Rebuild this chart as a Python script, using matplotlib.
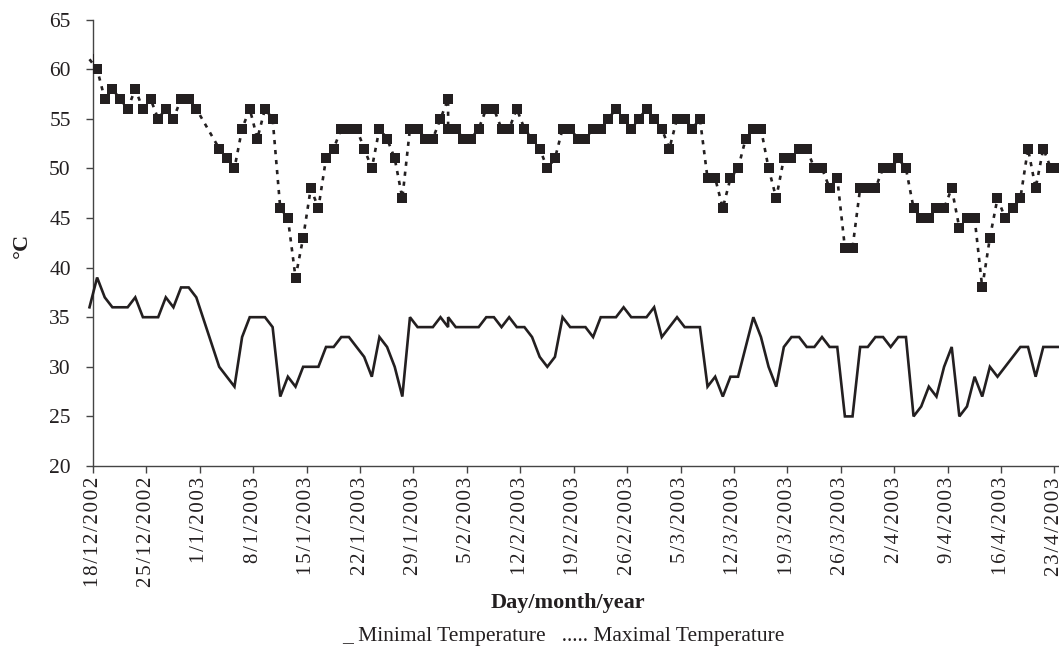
import matplotlib

matplotlib.use("Agg")
import matplotlib.pyplot as plt
import numpy as np
import pandas as pd

# daily readings from 18/12/2002; None = no reading that day,
# day 47 (3/2/2003) was recorded twice
start = pd.Timestamp("2002-12-18")
day_index = list(range(128))
day_index.insert(48, 47)

t_max = [61, 60, 57, 58, 57, 56, 58, 56, 57, 55, 56, 55, 57, 57, 56, None, None,
         52, 51, 50, 54, 56, 53, 56, 55, 46, 45, 39, 43, 48, 46, 51, 52, 54, 54,
         54, 52, 50, 54, 53, 51, 47, 54, 54, 53, 53, 55, 57, 54, 54, 53, 53, 54,
         56, 56, 54, 54, 56, 54, 53, 52, 50, 51, 54, 54, 53, 53, 54, 54, 55, 56,
         55, 54, 55, 56, 55, 54, 52, 55, 55, 54, 55, 49, 49, 46, 49, 50, 53, 54,
         54, 50, 47, 51, 51, 52, 52, 50, 50, 48, 49, 42, 42, 48, 48, 48, 50, 50,
         51, 50, 46, 45, 45, 46, 46, 48, 44, 45, 45, 38, 43, 47, 45, 46, 47, 52,
         48, 52, 50, 50]
t_min = [36, 39, 37, 36, 36, 36, 37, 35, 35, 35, 37, 36, 38, 38, 37, None, None,
         30, 29, 28, 33, 35, 35, 35, 34, 27, 29, 28, 30, 30, 30, 32, 32, 33, 33,
         32, 31, 29, 33, 32, 30, 27, 35, 34, 34, 34, 35, 34, 35, 34, 34, 34, 34,
         35, 35, 34, 35, 34, 34, 33, 31, 30, 31, 35, 34, 34, 34, 33, 35, 35, 35,
         36, 35, 35, 35, 36, 33, 34, 35, 34, 34, 34, 28, 29, 27, 29, 29, 32, 35,
         33, 30, 28, 32, 33, 33, 32, 32, 33, 32, 32, 25, 25, 32, 32, 33, 33, 32,
         33, 33, 25, 26, 28, 27, 30, 32, 25, 26, 29, 27, 30, 29, 30, 31, 32, 32,
         29, 32, 32, 32]

y_ticks = list(range(20, 70, 5))

ink = "#231f20"
plt.rcParams["font.family"] = ["Liberation Serif", "DejaVu Serif"]

df = pd.DataFrame({"day": day_index, "tmax": t_max, "tmin": t_min}, dtype=float)
mx = df.dropna(subset=["tmax"])
mn = df.dropna(subset=["tmin"])

fig = plt.figure(figsize=(10.59, 6.49), dpi=100)
ax = fig.add_axes([93 / 1059, 183 / 649, 1 - 93 / 1059, 446.4 / 649])

ax.plot(mn["day"], mn["tmin"], color=ink, lw=1.9, solid_joinstyle="miter",
        clip_on=False, zorder=3)
ax.plot(mx["day"], mx["tmax"], color=ink, lw=1.9, linestyle=(0, (1.6, 2.2)),
        clip_on=False, zorder=4)
ax.plot(mx["day"], mx["tmax"], linestyle="none", color=ink, marker="s",
        markersize=6.6, markeredgewidth=0, zorder=5)

week = np.arange(0, 128, 7)
labels = [f"{d.day}/{d.month}/{d.year}" for d in start + pd.to_timedelta(week, unit="D")]
hair = "\u200a"
ax.set_xticks(week + 0.46)
ax.set_xticklabels([hair.join(s) for s in labels], rotation=90, fontsize=15, color=ink)
ax.set_xlim(0.46, 127.06)
ax.set_ylim(20, 65)
ax.set_yticks(y_ticks)
ax.set_yticklabels([str(v) for v in y_ticks], fontsize=15.5, color=ink)

for side in ["top", "right"]:
    ax.spines[side].set_visible(False)
for side in ["left", "bottom"]:
    ax.spines[side].set_color("#444444")
    ax.spines[side].set_linewidth(1.0)
ax.tick_params(axis="y", direction="out", length=5, width=1.0, color="#444444", pad=11)
ax.tick_params(axis="x", direction="out", length=5, width=1.0, color="#444444", pad=3)

fig.text(22 / 1059, 1 - 245 / 649, "°C", rotation=90, fontsize=16, fontweight="bold",
         color=ink, ha="center", va="center")
fig.text(568 / 1059, 1 - 603 / 649, "Day/month/year", fontsize=16, fontweight="bold",
         color=ink, ha="center", va="center")
fig.text(563 / 1059, 1 - 637 / 649, "_ Minimal Temperature   ..... Maximal Temperature",
         fontsize=15.5, color=ink, ha="center", va="center")

fig.savefig("out.png", dpi=100)
plt.close(fig)
